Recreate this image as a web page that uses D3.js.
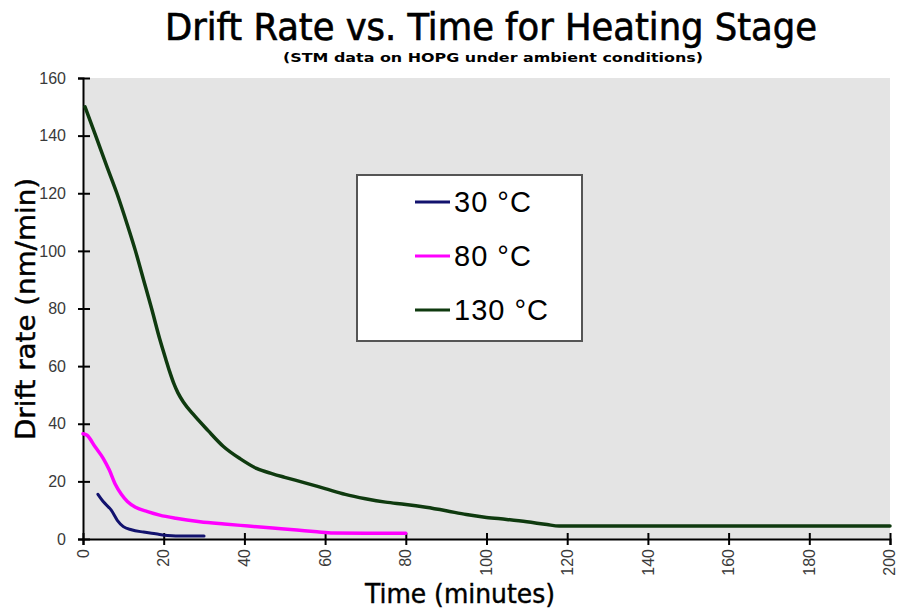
<!DOCTYPE html>
<html>
<head>
<meta charset="utf-8">
<script src="https://cdn.jsdelivr.net/npm/d3@7"></script>
<style>
  body { margin: 0; background: #fff; }
  svg { display: block; }
</style>
</head>
<body>
<svg id="chart"></svg>
<script>
// data
const seriesNames = ['30 °C', '80 °C', '130 °C'];

const time30 = [3.7, 5, 7, 8.5, 10, 12, 15, 18, 21, 25, 30];
const rate30 = [15.5, 13, 10, 6.5, 4.3, 3.2, 2.4, 1.8, 1.2, 1, 1];

const time80 = [0, 1, 3, 5, 6.5, 8, 9.5, 11, 13, 16, 19, 23, 29, 35, 41, 47, 53, 58, 62, 70, 80];
const rate80 = [36.5, 36, 32, 28, 24, 19, 15.5, 13, 11, 9.5, 8.3, 7.2, 6, 5.2, 4.5, 3.8, 3.1, 2.5, 2.1, 2, 2];

const time130 = [0.5, 3, 6, 8.4, 11, 13, 15, 17, 19, 20.5, 21.5, 22.5, 23.5, 25, 27.3, 31, 34.8, 39, 43, 47, 50, 55, 60, 65, 70, 75, 80, 85, 90, 95, 100, 105, 110, 115, 118, 200];
const rate130 = [150, 140.5, 129, 120, 109, 100, 90, 80, 69.5, 62.5, 58, 54, 50.8, 47.3, 43.3, 37.6, 32.1, 27.8, 24.5, 22.6, 21.4, 19.5, 17.5, 15.5, 14, 12.8, 12, 11, 9.8, 8.5, 7.5, 6.8, 6, 5, 4.5, 4.5];

const xTicks = [0, 20, 40, 60, 80, 100, 120, 140, 160, 180, 200];
const yTicks = [0, 20, 40, 60, 80, 100, 120, 140, 160];

const W = 898, H = 609;
const plotL = 83, plotR = 890, plotT = 78, plotB = 539;

const svg = d3.select('#chart').attr('width', W).attr('height', H);

const x = d3.scaleLinear().domain([0, 200]).range([plotL, plotR]);
const y = d3.scaleLinear().domain([0, 160]).range([plotB, plotT]);

// plot background
svg.append('rect')
  .attr('x', plotL).attr('y', plotT)
  .attr('width', plotR - plotL).attr('height', plotB - plotT)
  .attr('fill', '#e4e4e4');

// titles
svg.append('text')
  .attr('x', 491).attr('y', 40)
  .attr('text-anchor', 'middle')
  .attr('font-family', 'DejaVu Sans Condensed')
  .attr('font-size', 37)
  .attr('stroke', '#000').attr('stroke-width', 0.6)
  .attr('textLength', 652).attr('lengthAdjust', 'spacingAndGlyphs')
  .text('Drift Rate vs. Time for Heating Stage');

svg.append('text')
  .attr('x', 493).attr('y', 62)
  .attr('text-anchor', 'middle')
  .attr('font-family', 'DejaVu Sans Condensed')
  .attr('font-weight', 'bold')
  .attr('font-size', 13)
  .attr('textLength', 420).attr('lengthAdjust', 'spacingAndGlyphs')
  .text('(STM data on HOPG under ambient conditions)');

// axes
const yAxis = svg.append('g')
  .attr('transform', `translate(${plotL},0)`)
  .call(d3.axisLeft(y).tickValues(yTicks).tickSize(5).tickPadding(12));
yAxis.selectAll('.tick line').attr('x2', -5).attr('x1', 7).attr('stroke', '#000').attr('stroke-width', 2);
yAxis.selectAll('.tick text')
  .attr('font-family', 'Liberation Sans, Arial')
  .attr('font-size', 16).attr('fill', '#3a3a3a');
yAxis.select('.domain').attr('stroke', '#000').attr('stroke-width', 2);

const xAxis = svg.append('g')
  .attr('transform', `translate(0,${plotB})`)
  .call(d3.axisBottom(x).tickValues(xTicks).tickSize(6));
xAxis.selectAll('.tick line').attr('y1', -6).attr('y2', 6).attr('stroke', '#000').attr('stroke-width', 2);
xAxis.selectAll('.tick text')
  .attr('font-family', 'Liberation Sans, Arial')
  .attr('font-size', 16).attr('fill', '#3a3a3a')
  .attr('text-anchor', 'end')
  .attr('dy', '0.32em')
  .attr('transform', (d, i) => `translate(${i === xTicks.length - 1 ? -1 : 0},10) rotate(-90)`)
  .attr('x', 0).attr('y', 0);
xAxis.select('.domain').attr('stroke', '#000').attr('stroke-width', 2);

// axis labels
svg.append('text')
  .attr('transform', 'translate(35,309) rotate(-90)')
  .attr('text-anchor', 'middle')
  .attr('font-family', 'DejaVu Sans Condensed')
  .attr('font-size', 27)
  .attr('stroke', '#000').attr('stroke-width', 0.4)
  .attr('textLength', 262).attr('lengthAdjust', 'spacingAndGlyphs')
  .text('Drift rate (nm/min)');

svg.append('text')
  .attr('x', 460).attr('y', 603)
  .attr('text-anchor', 'middle')
  .attr('font-family', 'DejaVu Sans Condensed')
  .attr('font-size', 27)
  .attr('stroke', '#000').attr('stroke-width', 0.4)
  .attr('textLength', 190).attr('lengthAdjust', 'spacingAndGlyphs')
  .text('Time (minutes)');

// lines
const series = [
  { name: seriesNames[0], t: time30, v: rate30, color: '#12126e', width: 3 },
  { name: seriesNames[1], t: time80, v: rate80, color: '#ff00ff', width: 3.5 },
  { name: seriesNames[2], t: time130, v: rate130, color: '#0f3a0f', width: 3.5 }
];

const line = d3.line()
  .x(d => x(d[0]))
  .y(d => y(d[1]))
  .curve(d3.curveMonotoneX);

svg.selectAll('path.series')
  .data(series)
  .enter()
  .append('path')
  .attr('class', 'series')
  .attr('fill', 'none')
  .attr('stroke', d => d.color)
  .attr('stroke-width', d => d.width)
  .attr('stroke-linejoin', 'round')
  .attr('stroke-linecap', 'round')
  .attr('d', d => line(d.t.map((t, i) => [t, d.v[i]])));

// legend
const legend = svg.append('g');
legend.append('rect')
  .attr('x', 357).attr('y', 175)
  .attr('width', 225).attr('height', 166)
  .attr('fill', '#fff')
  .attr('stroke', '#555').attr('stroke-width', 2);

const items = legend.selectAll('g.item')
  .data(series)
  .enter()
  .append('g')
  .attr('class', 'item')
  .attr('transform', (d, i) => `translate(0,${202 + i * 54})`);

items.append('line')
  .attr('x1', 415).attr('x2', 450)
  .attr('stroke', d => d.color)
  .attr('stroke-width', 3);

items.append('text')
  .attr('x', 454).attr('y', 10)
  .attr('font-family', 'Liberation Sans, Arial')
  .attr('font-size', 29)
  .attr('letter-spacing', 1)
  .text(d => d.name);
</script>
</body>
</html>
